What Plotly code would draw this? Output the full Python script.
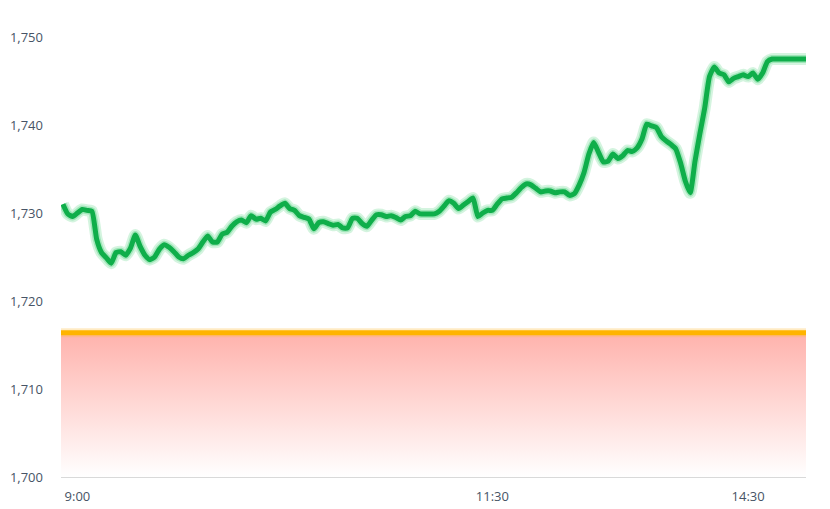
import plotly.graph_objects as go

# price samples, evenly spaced through the session (index axis)
price = [
    1731.0, 1729.9, 1729.6, 1730.0, 1730.4, 1730.3, 1730.2, 1727.0, 1725.5, 1724.9,
    1724.3, 1725.5, 1725.6, 1725.2, 1726.0, 1727.5, 1726.2, 1725.2, 1724.7, 1725.0,
    1725.9, 1726.4, 1726.1, 1725.6, 1725.0, 1724.8, 1725.2, 1725.5, 1725.9, 1726.7,
    1727.4, 1726.7, 1726.7, 1727.6, 1727.8, 1728.5, 1729.0, 1729.2, 1728.9, 1729.7,
    1729.3, 1729.4, 1729.1, 1730.1, 1730.4, 1730.8, 1731.1, 1730.5, 1730.3, 1729.7,
    1729.5, 1729.3, 1728.2, 1728.9, 1729.0, 1728.8, 1728.6, 1728.7, 1728.3, 1728.3,
    1729.4, 1729.4, 1728.8, 1728.5, 1729.2, 1729.8, 1729.8, 1729.6, 1729.7, 1729.5,
    1729.2, 1729.6, 1729.7, 1730.2, 1729.9, 1729.9, 1729.9, 1729.9, 1730.2, 1730.8,
    1731.4, 1731.1, 1730.5, 1730.9, 1731.3, 1731.7, 1729.6, 1730.0, 1730.3, 1730.3,
    1731.0, 1731.6, 1731.7, 1731.8, 1732.3, 1732.9, 1733.3, 1733.2, 1732.8, 1732.4,
    1732.5, 1732.5, 1732.3, 1732.4, 1732.4, 1732.0, 1732.2, 1733.2, 1734.6, 1736.7,
    1738.0, 1736.9, 1735.8, 1735.9, 1736.7, 1736.2, 1736.5, 1737.1, 1737.0, 1737.4,
    1738.4, 1740.1, 1739.9, 1739.7, 1738.7, 1738.2, 1737.8, 1737.3, 1735.7, 1733.6,
    1732.3, 1735.9, 1739.0, 1741.9, 1745.5, 1746.6, 1745.9, 1745.7, 1744.9, 1745.3,
    1745.5, 1745.7, 1745.5, 1745.9, 1745.2, 1745.9, 1747.2, 1747.5, 1747.5, 1747.5,
    1747.5, 1747.5, 1747.5, 1747.5, 1747.5,
]
prev_close = 1716.4
y_min, y_max = 1700, 1750

tick_idx = [3, 89, 142]
tick_text = ['9:00', '11:30', '14:30']

x = list(range(len(price)))
x_range = [-0.4, len(price) - 1]

fig = go.Figure()

# pink area below the previous close
fig.add_trace(go.Scatter(x=x_range, y=[y_min, y_min], mode='lines',
                         line=dict(width=0), hoverinfo='skip'))
fig.add_trace(go.Scatter(x=x_range, y=[prev_close, prev_close], mode='lines',
                         line=dict(width=0), fill='tonexty',
                         fillgradient=dict(type='vertical', start=y_min, stop=prev_close,
                                           colorscale=[[0, 'rgba(255,255,255,1)'],
                                                       [1, 'rgba(255,178,172,1)']]),
                         hoverinfo='skip'))
# previous close line (with soft glow)
fig.add_trace(go.Scatter(x=x_range, y=[prev_close, prev_close], mode='lines',
                         line=dict(color='rgba(255,190,60,0.3)', width=9)))
fig.add_trace(go.Scatter(x=x_range, y=[prev_close, prev_close], mode='lines',
                         line=dict(color='#ffb400', width=5)))

# price line with glow
fig.add_trace(go.Scatter(x=x, y=price, mode='lines',
                         line=dict(color='rgba(60,205,110,0.22)', width=12, shape='spline', smoothing=0.5)))
fig.add_trace(go.Scatter(x=x, y=price, mode='lines',
                         line=dict(color='rgba(40,200,100,0.3)', width=8, shape='spline', smoothing=0.5)))
fig.add_trace(go.Scatter(x=x, y=price, mode='lines',
                         line=dict(color='#0fae4a', width=5, shape='spline', smoothing=0.5)))

fig.update_layout(
    width=830, height=509,
    margin=dict(l=53, r=32, t=29, b=40),
    paper_bgcolor='white', plot_bgcolor='white',
    showlegend=False,
    font=dict(family='Open Sans', size=13, color='#475466'),
    xaxis=dict(range=x_range, tickvals=tick_idx, ticktext=tick_text,
               showgrid=False, zeroline=False, showline=True, linecolor='#d9d9d9',
               linewidth=1, ticks='', ticklabelstandoff=7, automargin=False),
    yaxis=dict(range=[y_min, y_max], dtick=10, tickformat=',d',
               showgrid=False, zeroline=False, showline=False, ticks='',
               ticklabelstandoff=17, automargin=False),
)

fig.write_html('out.html')
